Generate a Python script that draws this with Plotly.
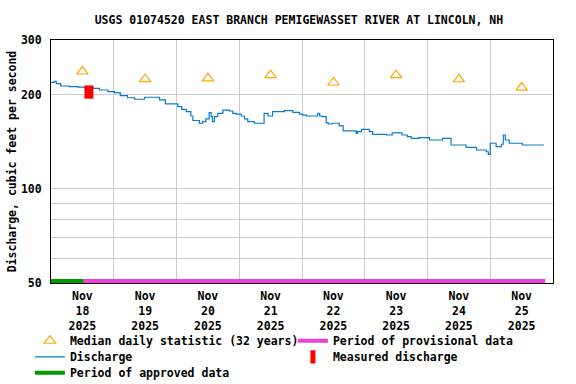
import plotly.graph_objects as go

# ---------------- data ----------------
discharge_time = [
    "2025-11-18 00:00", "2025-11-18 01:15", "2025-11-18 02:00", "2025-11-18 03:45",
    "2025-11-18 07:00", "2025-11-18 10:15", "2025-11-18 12:45", "2025-11-18 16:15",
    "2025-11-18 18:30", "2025-11-18 21:45", "2025-11-19 00:15", "2025-11-19 02:30",
    "2025-11-19 05:15", "2025-11-19 08:00", "2025-11-19 11:45", "2025-11-19 17:30",
    "2025-11-19 19:45", "2025-11-20 00:30", "2025-11-20 02:00", "2025-11-20 03:45",
    "2025-11-20 05:30", "2025-11-20 06:15", "2025-11-20 08:45", "2025-11-20 10:00",
    "2025-11-20 11:15", "2025-11-20 12:30", "2025-11-20 13:15", "2025-11-20 13:45",
    "2025-11-20 14:30", "2025-11-20 15:45", "2025-11-20 17:45", "2025-11-20 20:15",
    "2025-11-20 21:30", "2025-11-20 22:45", "2025-11-21 00:45", "2025-11-21 02:00",
    "2025-11-21 03:15", "2025-11-21 05:45", "2025-11-21 09:30", "2025-11-21 11:00",
    "2025-11-21 12:45", "2025-11-21 17:15", "2025-11-21 20:30", "2025-11-21 23:00",
    "2025-11-22 00:15", "2025-11-22 01:45", "2025-11-22 06:00", "2025-11-22 06:45",
    "2025-11-22 07:45", "2025-11-22 09:15", "2025-11-22 10:00", "2025-11-22 11:30",
    "2025-11-22 14:15", "2025-11-22 15:45", "2025-11-22 20:45", "2025-11-22 21:15",
    "2025-11-22 22:45", "2025-11-23 01:45", "2025-11-23 03:00", "2025-11-23 08:15",
    "2025-11-23 10:30", "2025-11-23 14:15", "2025-11-23 16:15", "2025-11-23 17:45",
    "2025-11-23 20:45", "2025-11-24 00:45", "2025-11-24 05:45", "2025-11-24 09:00",
    "2025-11-24 14:45", "2025-11-24 18:45", "2025-11-24 22:30", "2025-11-24 23:15",
    "2025-11-25 00:00", "2025-11-25 02:15", "2025-11-25 04:15", "2025-11-25 05:00",
    "2025-11-25 05:45", "2025-11-25 07:15", "2025-11-25 12:15", "2025-11-25 20:30",
]
discharge_cfs = [
    219.6, 221.0, 217.5, 213.7,
    212.8, 211.8, 211.0, 210.1,
    207.5, 204.9, 203.4, 199.0,
    196.0, 193.8, 196.7, 192.8,
    187.2, 183.5, 179.9, 176.8,
    171.3, 165.7, 162.4, 164.3,
    167.6, 175.5, 170.4, 164.3,
    170.4, 174.7, 179.0, 177.7,
    174.7, 173.8, 171.3, 167.6,
    164.3, 162.4, 174.7, 171.3,
    176.8, 178.1, 176.0, 173.8,
    172.5, 171.3, 174.7, 171.3,
    170.4, 163.1, 161.5, 162.4,
    159.2, 153.4, 150.8, 152.6,
    155.3, 152.6, 149.7, 148.9,
    151.3, 148.9, 147.1, 145.3,
    146.0, 143.5, 145.3, 138.3,
    136.0, 133.3, 131.6, 129.1,
    140.1, 136.6, 139.1, 148.9,
    143.5, 140.1, 138.3, 138.3,
]

median_time = ["2025-11-18 12:00", "2025-11-19 12:00", "2025-11-20 12:00", "2025-11-21 12:00",
               "2025-11-22 12:00", "2025-11-23 12:00", "2025-11-24 12:00", "2025-11-25 12:00"]
median_cfs = [237.8, 224.7, 226.2, 231.4, 219.3, 231.4, 224.6, 211.3]

measured_time = ["2025-11-18 14:30"]
measured_cfs = [204.4]

approved_period = ["2025-11-18 00:00", "2025-11-18 12:30"]
provisional_period = ["2025-11-18 12:30", "2025-11-25 21:00"]
period_level = [50.7, 50.7]

y_tick_vals = [50, 100, 200, 300]
y_minor_vals = [60, 70, 80, 90]

title_text = "USGS 01074520 EAST BRANCH PEMIGEWASSET RIVER AT LINCOLN, NH"

# ---------------- styling ----------------
FONT = "DejaVu Sans Mono"
FS = 11.5
GRID = "#cccccc"

fig = go.Figure()

fig.add_trace(go.Scatter(
    x=median_time, y=median_cfs, mode="markers",
    name="Median daily statistic (32 years)",
    marker=dict(symbol="triangle-up-open", size=10, color="#FFA500", line=dict(width=1.2)),
    legend="legend",
))
fig.add_trace(go.Scatter(
    x=provisional_period, y=period_level, mode="lines",
    name="Period of provisional data",
    line=dict(color="#EE3FD8", width=4),
    legend="legend",
))
fig.add_trace(go.Scatter(
    x=discharge_time, y=discharge_cfs, mode="lines",
    name="Discharge", line=dict(color="#0A7ACC", width=1.2, shape="hv"),
    legend="legend2",
))
fig.add_trace(go.Scatter(
    x=measured_time, y=measured_cfs, mode="markers",
    name="Measured discharge",
    marker=dict(symbol="line-ns-open", size=9.5, color="#FF0000", line=dict(width=9)),
    legend="legend2",
))
fig.add_trace(go.Scatter(
    x=approved_period, y=period_level, mode="lines",
    name="Period of approved data",
    line=dict(color="#009900", width=4),
    legend="legend3",
))

leg_common = dict(orientation="h", xanchor="left", yanchor="top", x=-0.042,
                  entrywidth=218, bgcolor="rgba(0,0,0,0)",
                  font=dict(family=FONT, size=FS, color="black", weight="bold"))

fig.update_layout(
    width=576, height=384,
    margin=dict(l=51, r=23, t=40, b=101, autoexpand=False),
    paper_bgcolor="white", plot_bgcolor="white",
    font=dict(family=FONT, size=FS, color="black", weight="bold"),
    title=dict(text=title_text, x=0.519, xref="container", xanchor="center",
               y=1 - 20 / 384, yref="container", yanchor="middle",
               font=dict(family=FONT, size=FS, color="black", weight="bold")),
    showlegend=True,
    legend=dict(**leg_common, y=-0.178),
    legend2=dict(**leg_common, y=-0.244),
    legend3=dict(**leg_common, y=-0.310),
    xaxis=dict(
        type="date", range=["2025-11-18 00:00", "2025-11-26 00:00"],
        tick0="2025-11-18", dtick=86400000, tickformat="%b<br>%d<br>%Y",
        ticklabelmode="period", showgrid=True, gridcolor=GRID, gridwidth=1,
        showline=True, linecolor="black", linewidth=1, mirror=True,
        ticks="", ticklabelstandoff=2, zeroline=False,
        tickfont=dict(family=FONT, size=FS, color="black", weight="bold"),
    ),
    yaxis=dict(
        type="log", range=[1.69897, 2.47712],
        tickmode="array", tickvals=y_tick_vals, ticktext=[str(v) for v in y_tick_vals],
        showgrid=True, gridcolor=GRID, gridwidth=1,
        minor=dict(tickmode="array", tickvals=y_minor_vals, showgrid=True, gridcolor=GRID, gridwidth=1, ticks=""),
        showline=True, linecolor="black", linewidth=1, mirror=True,
        ticks="", ticklabelstandoff=6, zeroline=False,
        title=dict(text="Discharge, cubic feet per second", standoff=1,
                   font=dict(family=FONT, size=FS, color="black", weight="bold")),
        tickfont=dict(family=FONT, size=FS, color="black", weight="bold"),
    ),
)

fig.write_html("out.html",
               config={"displayModeBar": False},
               post_script="document.body.style.margin='0';document.body.style.padding='0';")
